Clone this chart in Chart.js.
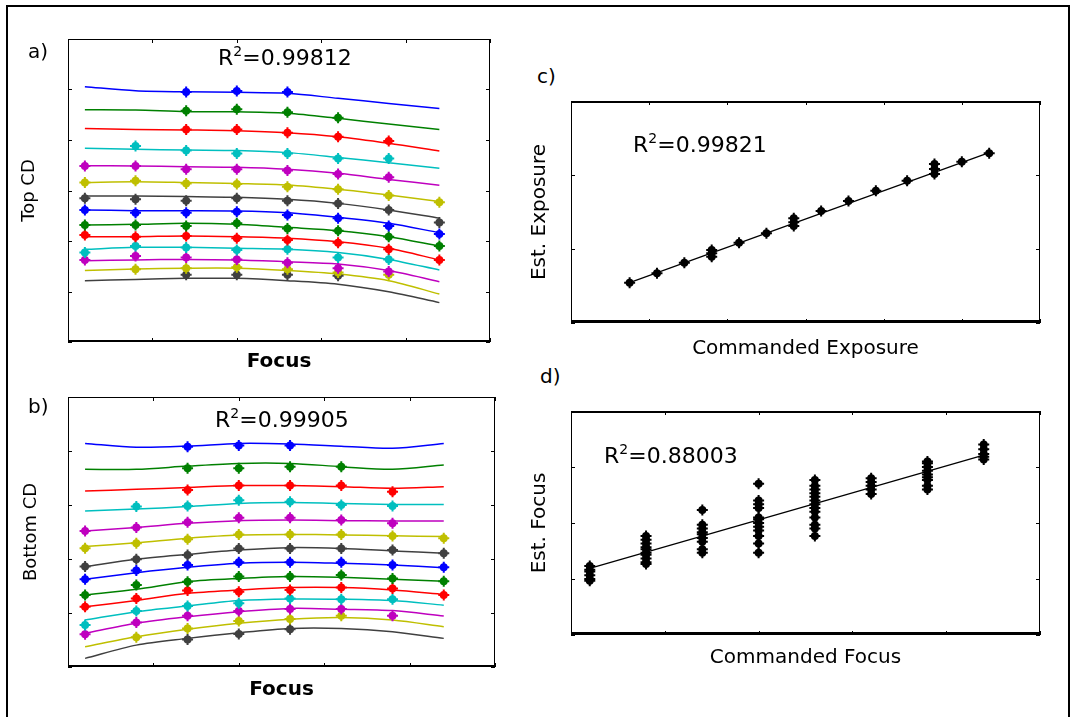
<!DOCTYPE html>
<html>
<head>
<meta charset="utf-8">
<script src="https://cdn.jsdelivr.net/npm/chart.js@4.4.0/dist/chart.umd.min.js"></script>
<style>
  body { margin: 0; width: 1073px; height: 717px; overflow: hidden; position: relative; background: #fff; font-family: "DejaVu Sans", sans-serif; }
  .frame { position: absolute; left: 6px; top: 5px; width: 1060px; height: 800px; border: 2px solid #000; }
  canvas { position: absolute; }
  .lbl { position: absolute; font-size: 20px; line-height: 1; color: #000; z-index: 2; }
  .r2 { position: absolute; font-size: 22px; line-height: 1; color: #000; z-index: 2; }
  .r2 sup { font-size: 14px; vertical-align: 9px; line-height: 0; }
</style>
</head>
<body>
<div class="frame"></div>
<div class="lbl" style="left:28px;top:41px">a)</div>
<div class="lbl" style="left:28px;top:396px">b)</div>
<div class="lbl" style="left:537px;top:66px">c)</div>
<div class="lbl" style="left:540px;top:366px">d)</div>
<div class="r2" style="left:218px;top:47px">R<sup>2</sup>=0.99812</div>
<div class="r2" style="left:215px;top:409px">R<sup>2</sup>=0.99905</div>
<div class="r2" style="left:633px;top:134px">R<sup>2</sup>=0.99821</div>
<div class="r2" style="left:604px;top:445px">R<sup>2</sup>=0.88003</div>
<script>
/* global Chart */

// focus settings (um) used for every CD curve
const focusSteps = [-0.36, -0.24, -0.12, 0, 0.12, 0.24, 0.36, 0.48];

// a) top CD, fitted curves and measured points, one row per exposure
const topCdFit = [
  [141.1, 139.5, 139.1, 138.9, 138.5, 136.5, 134.5, 132.5],
  [132.0, 131.9, 131.2, 131.2, 130.6, 128.6, 126.3, 124.2],
  [124.6, 124.2, 124.0, 123.7, 122.9, 121.3, 118.7, 115.6],
  [116.7, 116.3, 116.0, 115.8, 115.0, 113.1, 111.0, 108.8],
  [109.8, 109.7, 109.4, 109.2, 108.4, 106.8, 104.4, 102.1],
  [103.2, 103.5, 103.2, 102.8, 102.2, 100.5, 98.2, 95.6],
  [97.8, 97.8, 97.6, 97.3, 96.5, 94.9, 92.3, 89.0],
  [92.3, 92.0, 92.0, 91.9, 91.2, 89.4, 87.0, 83.3],
  [86.3, 86.6, 87.0, 86.6, 85.4, 84.1, 81.7, 78.0],
  [81.7, 81.7, 82.0, 81.7, 81.1, 79.7, 77.1, 72.5],
  [76.7, 77.5, 77.5, 77.1, 76.7, 75.4, 72.7, 68.5],
  [72.2, 72.5, 72.7, 72.5, 71.8, 70.9, 68.3, 63.9],
  [68.3, 68.9, 69.2, 69.2, 68.3, 66.9, 64.3, 59.0],
  [64.3, 64.8, 65.2, 65.2, 64.3, 62.9, 59.9, 55.6],
];
const topCdMeas = [
  [null, null, 139.0, 139.4, 139.0, null, null, null],
  [null, null, 131.6, 132.2, 131.0, 128.8, null, null],
  [null, null, 124.2, 124.2, 122.9, 121.3, 119.6, null],
  [null, 117.6, 115.8, 114.7, 114.7, 112.7, 112.7, null],
  [109.7, 109.7, 108.4, 108.4, 107.9, 106.5, 105.2, null],
  [103.2, 103.9, 102.8, 102.6, 101.5, 100.5, 98.0, 95.3],
  [96.9, 96.5, 95.9, 96.9, 95.9, 94.9, 92.3, 87.3],
  [92.3, 91.2, 91.2, 91.6, 90.3, 89.0, 85.9, 82.8],
  [86.3, 86.3, 85.9, 87.0, 85.0, 84.1, 81.7, 78.0],
  [82.4, 81.7, 82.0, 81.1, 80.4, 79.3, 76.7, 72.5],
  [75.4, 78.0, 77.4, 76.4, 76.7, 73.5, 72.7, null],
  [72.5, 74.1, 73.5, 72.7, 71.4, 69.2, 67.9, null],
  [null, 68.8, 69.2, 69.6, 68.8, 67.5, 66.6, null],
  [null, null, 66.6, 66.6, 66.6, 66.2, null, null],
];

// b) bottom CD
const bottomCdFit = [
  [122.8, 121.4, 121.8, 122.8, 122.6, 121.8, 121.0, 122.8],
  [113.2, 113.2, 114.4, 115.4, 115.4, 114.2, 113.2, 114.8],
  [105.2, 105.8, 106.5, 107.2, 107.2, 106.8, 106.2, 106.8],
  [97.8, 98.5, 99.4, 100.6, 100.9, 100.6, 100.2, 100.2],
  [90.4, 91.7, 93.2, 94.2, 94.4, 94.2, 94.1, 94.1],
  [84.6, 86.0, 87.7, 88.9, 89.1, 88.9, 88.6, 88.3],
  [77.2, 79.9, 81.7, 83.3, 84.2, 83.9, 83.0, 82.1],
  [72.5, 74.9, 76.9, 78.4, 78.8, 78.4, 77.8, 76.8],
  [66.7, 68.8, 71.6, 72.8, 73.5, 73.2, 72.5, 71.8],
  [62.3, 64.6, 67.3, 68.5, 69.4, 69.4, 68.5, 66.9],
  [57.4, 60.5, 62.6, 64.6, 65.2, 65.1, 64.6, 62.9],
  [52.5, 56.2, 58.6, 60.5, 61.7, 61.4, 60.9, 58.9],
  [47.5, 51.2, 54.0, 56.2, 57.7, 58.3, 57.4, 54.9],
  [43.2, 48.1, 50.6, 52.7, 54.3, 54.3, 53.1, 50.6],
];
const bottomCdMeas = [
  [null, null, 121.6, 122.0, 122.0, null, null, null],
  [null, null, 113.6, 113.6, 114.2, 114.2, null, null],
  [null, null, 105.6, 107.2, 107.2, 107.2, 104.9, null],
  [null, 99.4, 99.6, 101.8, 101.2, 100.0, 99.6, null],
  [90.4, 91.7, 93.6, 95.3, 95.3, 94.4, 93.2, null],
  [84.0, 85.8, 87.3, 89.1, 89.1, 89.1, 88.5, 87.7],
  [77.2, 79.9, 81.5, 83.9, 83.9, 83.9, 83.3, 82.1],
  [72.5, 75.7, 77.8, 78.8, 78.8, 78.8, 77.8, 76.9],
  [66.7, 70.4, 71.6, 73.5, 73.5, 74.1, 72.8, 71.8],
  [62.3, 65.4, 68.3, 67.9, 68.5, 69.4, 69.1, 66.7],
  [55.6, 60.7, 62.6, 63.6, 65.4, 65.1, 65.1, null],
  [52.1, 56.5, 59.0, 60.7, 61.5, 61.5, 59.0, null],
  [null, 51.0, 54.3, 57.0, 57.8, 59.0, null, null],
  [null, null, 50.2, 52.2, 54.0, null, null, null],
];

// c) exposure model check
const exposureCmd = [17.5, 18.2, 18.9, 19.6, 19.6, 19.6, 20.3, 21.0, 21.7, 21.7, 21.7,
  22.4, 23.1, 23.8, 24.6, 25.3, 25.3, 25.3, 26.0, 26.7];
const exposureEst = [15.27, 16.03, 16.89, 17.65, 17.92, 17.38, 18.51, 19.27, 20.16, 20.49, 19.86,
  21.08, 21.89, 22.73, 23.54, 24.49, 24.89, 24.08, 25.08, 25.76];
const exposureFitX = [17.5, 26.7];
const exposureFitY = [15.27, 25.81];

// d) focus model check, one column of estimates per commanded focus
const focusCmd = [-0.36, -0.24, -0.12, 0, 0.12, 0.24, 0.36, 0.48];
const focusEst = [
  [-0.23, -0.25, -0.26, -0.28, -0.30, -0.31],
  [-0.07, -0.09, -0.11, -0.13, -0.14, -0.16, -0.17, -0.19, -0.21, -0.22],
  [0.07, -0.01, -0.03, -0.05, -0.06, -0.08, -0.10, -0.14, -0.16],
  [0.21, 0.12, 0.10, 0.08, 0.03, 0.02, 0.0, -0.02, -0.04, -0.07, -0.11, -0.16],
  [0.23, 0.20, 0.18, 0.16, 0.14, 0.12, 0.10, 0.08, 0.06, 0.03, -0.01, -0.03, -0.07],
  [0.24, 0.22, 0.20, 0.18, 0.155],
  [0.33, 0.32, 0.30, 0.28, 0.26, 0.245, 0.23, 0.20, 0.18],
  [0.42, 0.395, 0.37, 0.355, 0.34],
];
const focusFitX = [-0.36, 0.48];
const focusFitY = [-0.243, 0.364];

const lineColors = ["#0000ff", "#008000", "#ff0000", "#00bfbf", "#bf00bf", "#bfbf00", "#404040"];

// box frame with inward ticks on all four sides, like the old plot style
const boxFrame = {
  id: "boxFrame",
  afterDatasetsDraw(chart, args, opts) {
    const { ctx, chartArea: a, scales } = chart;
    const len = 4;
    ctx.save();
    ctx.strokeStyle = "#000";
    ctx.lineWidth = 1;
    ctx.beginPath();
    scales.x.ticks.forEach((t) => {
      const px = Math.round(scales.x.getPixelForValue(t.value)) + 0.5;
      ctx.moveTo(px, a.bottom);
      ctx.lineTo(px, a.bottom - len);
      ctx.moveTo(px, a.top);
      ctx.lineTo(px, a.top + len);
    });
    scales.y.ticks.forEach((t) => {
      const py = Math.round(scales.y.getPixelForValue(t.value)) + 0.5;
      ctx.moveTo(a.left, py);
      ctx.lineTo(a.left + len, py);
      ctx.moveTo(a.right, py);
      ctx.lineTo(a.right - len, py);
    });
    ctx.stroke();
    const side = (x1, y1, x2, y2, w) => {
      ctx.lineWidth = w;
      ctx.beginPath();
      ctx.moveTo(x1, y1);
      ctx.lineTo(x2, y2);
      ctx.stroke();
    };
    side(a.left + 0.5, a.top, a.left + 0.5, a.bottom, 1);
    side(a.right - 0.5, a.top, a.right - 0.5, a.bottom, 1);
    side(a.left, a.top + opts.top / 2, a.right, a.top + opts.top / 2, opts.top);
    side(a.left, a.bottom - opts.bottom / 2, a.right, a.bottom - opts.bottom / 2, opts.bottom);
    ctx.restore();
  },
};

function markerSets(pts, color) {
  return [
    { data: pts, showLine: false, pointStyle: "circle", pointRadius: 4, backgroundColor: color, borderColor: color, borderWidth: 0, order: 1 },
    { data: pts, showLine: false, pointStyle: "cross", pointRadius: 5.5, borderColor: color, borderWidth: 2, order: 1 },
  ];
}

function cdDatasets(fit, meas) {
  let sets = [];
  fit.forEach((row, i) => {
    const color = lineColors[i % lineColors.length];
    sets.push({
      data: row.map((v, j) => ({ x: focusSteps[j], y: v })),
      showLine: true, borderColor: color, borderWidth: 1.5, pointRadius: 0, tension: 0.3, order: 2,
    });
    const pts = meas[i]
      .map((v, j) => (v === null ? null : { x: focusSteps[j], y: v }))
      .filter((p) => p);
    sets = sets.concat(markerSets(pts, color));
  });
  return sets;
}

function fitLine(xs, ys) {
  return {
    data: xs.map((x, i) => ({ x: x, y: ys[i] })),
    showLine: true, borderColor: "#000", borderWidth: 1.2, pointRadius: 0, order: 2,
  };
}

// box = [left, top, right, bottom] of the plot area in page pixels
function makePanel(box, yTitleX, xTitleY, xAxis, yAxis, xTitle, yTitle, frameOpts, datasets) {
  const lh = 24;
  const left = Math.round(yTitleX - lh / 2);
  const top = box[1] - 3;
  const right = box[2] + 3;
  const bottom = Math.round(xTitleY + lh / 2);
  const canvas = document.createElement("canvas");
  canvas.width = right - left;
  canvas.height = bottom - top;
  canvas.style.left = left + "px";
  canvas.style.top = top + "px";
  document.body.appendChild(canvas);
  const yWidth = box[0] - left;
  const xHeight = bottom - box[3];

  return new Chart(canvas, {
    type: "scatter",
    data: { datasets: datasets },
    options: {
      responsive: false,
      animation: false,
      devicePixelRatio: 1,
      layout: { autoPadding: false, padding: { top: 3, right: 3, left: 0, bottom: 0 } },
      plugins: {
        legend: { display: false },
        tooltip: { enabled: false },
        boxFrame: frameOpts,
      },
      scales: {
        x: {
          type: "linear",
          min: xAxis[0],
          max: xAxis[1],
          ticks: { display: false, stepSize: xAxis[2] },
          grid: { display: false },
          border: { display: false },
          title: { display: true, text: xTitle.text, color: "#000", padding: 0, font: xTitle.font },
          afterFit: (s) => { s.height = xHeight; },
        },
        y: {
          type: "linear",
          min: yAxis[0],
          max: yAxis[1],
          ticks: { display: false, stepSize: yAxis[2] },
          grid: { display: false },
          border: { display: false },
          title: { display: true, text: yTitle.text, color: "#000", padding: 0, font: yTitle.font },
          afterFit: (s) => { s.width = yWidth; },
        },
      },
    },
    plugins: [boxFrame],
  });
}

const fontBold = { family: "DejaVu Sans", size: 20, weight: "bold" };
const fontSide = { family: "DejaVu Sans", size: 18 };
const fontReg = { family: "DejaVu Sans", size: 20 };

window.topChart = makePanel(
  [68, 39, 490, 342], 31, 362,
  [-0.4, 0.6, 0.2], [40, 160, 20],
  { text: "Focus", font: fontBold }, { text: "Top CD", font: fontSide },
  { top: 1, bottom: 2 },
  cdDatasets(topCdFit, topCdMeas)
);

window.bottomChart = makePanel(
  [68, 397, 495, 667], 33, 690,
  [-0.4, 0.6, 0.2], [40, 140, 20],
  { text: "Focus", font: fontBold }, { text: "Bottom CD", font: fontSide },
  { top: 1, bottom: 2 },
  cdDatasets(bottomCdFit, bottomCdMeas)
);

const exposurePts = exposureCmd.map((x, i) => ({ x: x, y: exposureEst[i] }));
window.exposureChart = makePanel(
  [571, 101, 1040, 323], 540, 349,
  [16, 28, 2], [12, 30, 6],
  { text: "Commanded Exposure", font: fontReg }, { text: "Est. Exposure", font: fontReg },
  { top: 2, bottom: 3 },
  [fitLine(exposureFitX, exposureFitY)].concat(markerSets(exposurePts, "#000"))
);

let focusPts = [];
focusEst.forEach((col, i) => {
  col.forEach((v) => focusPts.push({ x: focusCmd[i], y: v }));
});
window.focusChart = makePanel(
  [571, 411, 1040, 635], 540, 658,
  [-0.4, 0.6, 0.2], [-0.6, 0.6, 0.3],
  { text: "Commanded Focus", font: fontReg }, { text: "Est. Focus", font: fontReg },
  { top: 2, bottom: 3 },
  [fitLine(focusFitX, focusFitY)].concat(markerSets(focusPts, "#000"))
);
</script>
</body>
</html>
